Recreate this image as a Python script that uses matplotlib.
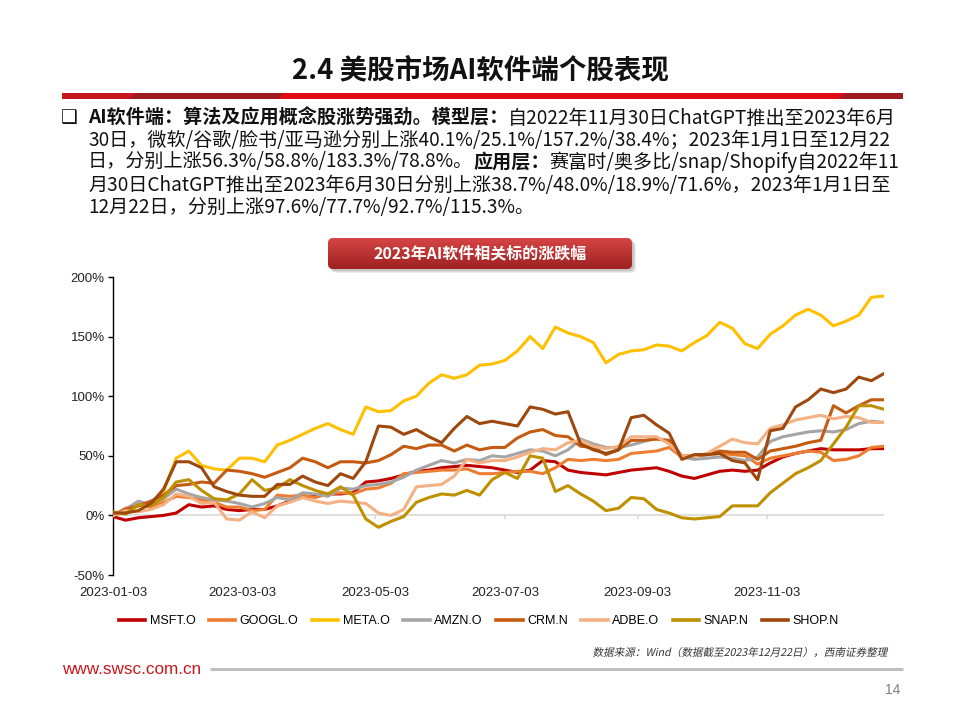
import numpy as np
import matplotlib
matplotlib.use('Agg')
import matplotlib.pyplot as plt
from matplotlib.patches import FancyBboxPatch, Polygon, PathPatch
from matplotlib.lines import Line2D
from matplotlib.textpath import TextPath
from matplotlib.font_manager import FontProperties
from matplotlib.transforms import Affine2D

plt.rcParams['font.family'] = ['Noto Sans CJK SC', 'DejaVu Sans']

# ---------------- data ----------------
days = list(range(0, 245, 4))  # trading-day index counted from 2023-01-03
tick_days = [0, 41, 83, 124, 166, 207]
tick_labels = ['2023-01-03', '2023-03-03', '2023-05-03', '2023-07-03', '2023-09-03', '2023-11-03']
y_ticks = [-50, 0, 50, 100, 150, 200]

names = ['MSFT.O', 'GOOGL.O', 'META.O', 'AMZN.O', 'CRM.N', 'ADBE.O', 'SNAP.N', 'SHOP.N']
colors = ['#c00000', '#ed7d31', '#ffc000', '#a5a5a5', '#c55a11', '#f4b183', '#bf9000', '#9e480e']

msft = [-1, -4, -2, -1, 0, 2, 9, 7, 8, 5, 4, 5, 5, 8, 12, 15,
        17, 18, 18, 19, 28, 29, 31, 34, 37, 38, 40, 41, 42, 41, 40,
        38, 36, 38, 46, 45, 38, 36, 35, 34, 36, 38, 39, 40, 37, 33, 31,
        34, 37, 38, 37, 38, 44, 49, 52, 54, 56, 55, 55, 55, 56, 56]
googl = [0, 6, 9, 7, 11, 16, 15, 13, 11, 7, 7, 4, 5, 17, 16, 17,
         15, 18, 19, 18, 22, 23, 27, 35, 36, 37, 38, 38, 39, 35, 35,
         36, 37, 37, 35, 40, 47, 46, 47, 46, 47, 52, 53, 54, 57, 49, 50,
         51, 52, 51, 50, 43, 48, 50, 52, 54, 53, 46, 47, 50, 57, 58]
meta = [0, 3, 8, 10, 20, 48, 54, 42, 39, 38, 48, 48, 45, 59, 63, 68,
        73, 77, 72, 68, 91, 87, 88, 96, 100, 111, 118, 115, 118, 126, 127,
        130, 138, 150, 140, 158, 153, 150, 145, 128, 135, 138, 139, 143, 142, 138, 145,
        151, 162, 157, 144, 140, 152, 159, 168, 173, 168, 159, 163, 168, 183, 184]
amzn = [0, 5, 12, 9, 14, 22, 18, 15, 13, 12, 10, 7, 10, 15, 13, 19,
        18, 16, 23, 22, 25, 26, 28, 32, 38, 42, 46, 44, 47, 46, 50,
        49, 52, 55, 54, 50, 55, 64, 60, 57, 57, 59, 62, 65, 62, 49, 47,
        48, 49, 48, 46, 49, 62, 66, 68, 70, 71, 70, 72, 77, 79, 78]
crm = [0, 5, 8, 12, 17, 25, 26, 28, 27, 38, 37, 35, 32, 36, 40, 48,
       45, 40, 45, 45, 44, 46, 51, 58, 56, 59, 59, 54, 59, 55, 57,
       57, 65, 70, 72, 67, 66, 58, 57, 51, 55, 63, 63, 64, 63, 50, 50,
       51, 54, 53, 53, 47, 54, 56, 58, 61, 63, 92, 86, 92, 97, 97]
adbe = [0, 4, 3, 5, 9, 18, 16, 10, 11, -3, -4, 3, -2, 8, 11, 15,
        12, 10, 12, 11, 10, 2, 0, 5, 24, 25, 26, 33, 47, 44, 46,
        46, 49, 53, 56, 55, 61, 63, 58, 56, 58, 66, 66, 66, 60, 50, 50,
        52, 58, 64, 61, 60, 73, 76, 80, 82, 84, 81, 83, 82, 78, 78]
snap = [3, 1, 9, 8, 15, 28, 30, 21, 14, 13, 18, 30, 21, 23, 30, 25,
        21, 18, 24, 17, -3, -10, -5, -1, 11, 15, 18, 17, 21, 17, 30,
        36, 31, 50, 48, 20, 25, 18, 12, 4, 6, 15, 14, 5, 2, -2, -3,
        -2, -1, 8, 8, 8, 19, 27, 35, 40, 46, 60, 74, 92, 92, 89]
shop = [2, 2, 4, 10, 22, 45, 45, 40, 24, 20, 17, 16, 16, 26, 26, 33,
        28, 25, 35, 31, 45, 75, 74, 68, 72, 66, 61, 73, 83, 77, 79,
        77, 75, 91, 89, 85, 87, 60, 55, 52, 55, 82, 84, 76, 69, 47, 51,
        51, 52, 46, 44, 30, 71, 73, 91, 97, 106, 103, 106, 116, 113, 119]
series = [msft, googl, meta, amzn, crm, adbe, snap, shop]

title = '2.4 美股市场AI软件端个股表现'
chart_title = '2023年AI软件相关标的涨跌幅'
body_lines = [
    [('AI软件端：算法及应用概念股涨势强劲。模型层：', True), ('自2022年11月30日ChatGPT推出至2023年6月', False)],
    [('30日，微软/谷歌/脸书/亚马逊分别上涨40.1%/25.1%/157.2%/38.4%；2023年1月1日至12月22', False)],
    [('日，分别上涨56.3%/58.8%/183.3%/78.8%。', False), ('应用层：', True),
     ('赛富时/奥多比/snap/Shopify自2022年11', False)],
    [('月30日ChatGPT推出至2023年6月30日分别上涨38.7%/48.0%/18.9%/71.6%，2023年1月1日至', False)],
    [('12月22日，分别上涨97.6%/77.7%/92.7%/115.3%。', False)],
]
source = '数据来源：Wind（数据截至2023年12月22日），西南证券整理'
website = 'www.swsc.com.cn'
page_no = '14'

# ---------------- figure ----------------
W, H = 960, 720
fig = plt.figure(figsize=(W / 100, H / 100), dpi=100)
fig.patch.set_facecolor('white')

# overlay axes in pixel coordinates (y downwards)
oax = fig.add_axes([0, 0, 1, 1])
oax.set_xlim(0, W)
oax.set_ylim(H, 0)
oax.axis('off')

# title
oax.text(480, 70, title, ha='center', va='center', fontsize=19.8, fontweight='bold', color='#111111')

# red bar under title
bar_top, bar_bot = 93, 99
oax.add_patch(Polygon([(62, bar_top), (903, bar_top), (903, bar_bot), (62, bar_bot)],
                      closed=True, fc='#e30b17', ec='none'))
oax.add_patch(Polygon([(62, bar_top), (137, bar_top), (129, bar_bot), (62, bar_bot)],
                      closed=True, fc='#c8161e', ec='none'))
oax.add_patch(Polygon([(137, bar_top), (285, bar_top), (277, bar_bot), (129, bar_bot)],
                      closed=True, fc='#9e1b20', ec='none'))
oax.add_patch(Polygon([(846, bar_top), (903, bar_top), (903, bar_bot), (838, bar_bot)],
                      closed=True, fc='#9e1b20', ec='none'))

# body text with bold segments
r = fig.canvas.get_renderer()


def piece_width(s, size, bold):
    t = oax.text(0, 0, s, fontsize=size, fontweight='bold' if bold else 'normal')
    w = t.get_window_extent(r).width
    t.remove()
    return w


base = 13.0
widths = [sum(piece_width(s, base, b) for s, b in line) for line in body_lines[:4]]
fsize = base * 812.0 / max(widths)

oax.text(69, 118, '❑', ha='center', va='center', fontsize=13.5, family='DejaVu Sans',
         fontweight='bold', color='#111111')
line_y = [118, 140, 162, 185, 207]
for line, yy in zip(body_lines, line_y):
    xx = 88
    for s, b in line:
        t = oax.text(xx, yy, s, ha='left', va='center', fontsize=fsize,
                     fontweight='bold' if b else 'normal', color='#111111')
        xx += t.get_window_extent(r).width

# chart title box (gradient, rounded, with shadow)
bax = fig.add_axes([318 / W, 1 - 280 / H, 324 / W, 48 / H])
bax.set_xlim(0, 324)
bax.set_ylim(0, 48)
bax.axis('off')
bx, by, bw, bh = 10, 11, 304, 31
for k, a in enumerate([0.10, 0.12, 0.16]):
    off = 4 - k
    bax.add_patch(FancyBboxPatch((bx + off, by - off), bw, bh,
                                 boxstyle='round,pad=0,rounding_size=5',
                                 fc='#555555', ec='none', alpha=a))
box = FancyBboxPatch((bx, by), bw, bh, boxstyle='round,pad=0,rounding_size=5',
                     fc='none', ec='none')
bax.add_patch(box)
top_c = np.array([0.84, 0.27, 0.27])
bot_c = np.array([0.62, 0.13, 0.13])
tt = np.linspace(0, 1, 64)[:, None, None]
grad = top_c * (1 - tt) + bot_c * tt
im = bax.imshow(grad, extent=(bx, bx + bw, by, by + bh), aspect='auto', origin='upper', zorder=2)
im.set_clip_path(box)
bax.text(bx + bw / 2, by + bh / 2, chart_title, ha='center', va='center', color='white',
         fontsize=11.5, fontweight='bold', zorder=3)

# main chart axes
ax = fig.add_axes([113 / W, 1 - 575 / H, 771 / W, 298 / H])
ax.set_facecolor('none')
for vals, c in zip(series, colors):
    ax.plot(days, vals, color=c, lw=2.2, zorder=3)
ax.set_xlim(0, 244)
ax.set_ylim(-50, 200)
ax.axhline(0, color='#d9d9d9', lw=1.2, zorder=1)
ax.vlines(tick_days[1:], -2.8, 0, color='#d9d9d9', lw=1.2, zorder=1)
for sp in ['top', 'right', 'bottom']:
    ax.spines[sp].set_visible(False)
ax.spines['left'].set_color('#000000')
ax.spines['left'].set_linewidth(1.0)
ax.set_yticks(y_ticks)
ax.set_yticklabels([f'{v}%' for v in y_ticks], fontfamily='Liberation Sans', fontsize=9.5, color='#222222')
ax.tick_params(axis='y', direction='out', length=3.5, width=1, pad=2.5, colors='#000000', labelcolor='#222222')
ax.set_xticks(tick_days)
ax.set_xticklabels(tick_labels, fontfamily='Liberation Sans', fontsize=9.5, color='#222222')
ax.tick_params(axis='x', length=0, pad=8.5)

# legend
handles = [Line2D([], [], color=c, lw=2.6) for c in colors]
fig.legend(handles, names, loc='center', bbox_to_anchor=(479 / W, 1 - 621 / H), ncol=8,
           frameon=False, prop={'family': 'Liberation Sans', 'size': 9},
           handlelength=2.1, handletextpad=0.35, columnspacing=1.1)

# source (slanted like italic) and footer
src_path = TextPath((0, 0), source, size=10.6, prop=FontProperties(family='Noto Sans CJK SC'))
ext = src_path.get_extents()
src_tr = Affine2D().skew_deg(12, 0).scale(1, -1).translate(887 - ext.x1, 656)
oax.add_patch(PathPatch(src_tr.transform_path(src_path), fc='#333333', ec='none', lw=0))
oax.text(62, 669, website, ha='left', va='center', fontsize=12.3, family='Liberation Sans', color='#c8161d')
oax.plot([210, 903], [669, 669], color='#bfbfbf', lw=2.2, solid_capstyle='butt')
oax.text(900, 690, page_no, ha='right', va='center', fontsize=10, family='Liberation Sans', color='#808080')

fig.savefig('out.png', dpi=100, facecolor='white')
